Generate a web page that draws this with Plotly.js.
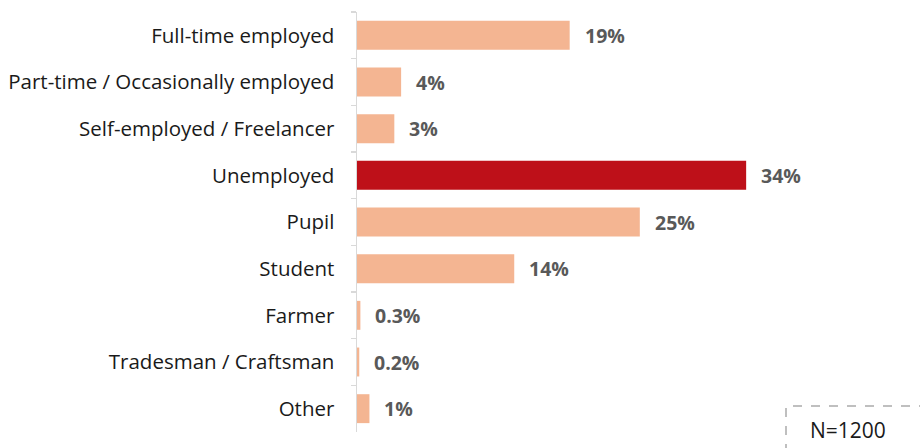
<!DOCTYPE html>
<html>
<head>
<meta charset="utf-8">
<script src="https://cdn.plot.ly/plotly-3.0.1.min.js"></script>
<style>html,body{margin:0;padding:0;background:#fff;}#chart{width:920px;height:448px;}</style>
</head>
<body>
<div id="chart"></div>
<script>
const categories = ["Full-time employed","Part-time / Occasionally employed","Self-employed / Freelancer","Unemployed","Pupil","Student","Farmer","Tradesman / Craftsman","Other"];
const values = [18.8, 3.9, 3.3, 34.4, 25.0, 13.9, 0.3, 0.2, 1.1];
const valueLabels = ["19%","4%","3%","34%","25%","14%","0.3%","0.2%","1%"];
const highlight = "Unemployed";
const sampleNote = "N=1200";

const colors = categories.map(c => c === highlight ? "#BE1019" : "#F4B592");

const trace = {
  type: "bar",
  orientation: "h",
  y: categories,
  x: values,
  marker: {color: colors},
  hoverinfo: "none"
};

const annotations = categories.map((c, i) => ({
  x: values[i], y: c, xref: "x", yref: "y",
  text: "<b>" + valueLabels[i] + "</b>",
  showarrow: false, xanchor: "left", xshift: 13,
  font: {family: "Open Sans, sans-serif", size: 19.5, color: "#595959"}
}));
annotations.push({
  xref: "paper", yref: "paper",
  x: (848 - 357) / 543, y: (448 - 16 - 430) / 420,
  text: sampleNote, showarrow: false, xanchor: "center", yanchor: "middle",
  font: {family: "Open Sans, sans-serif", size: 21, color: "#1a1a1a"}
});

const layout = {
  width: 920, height: 448,
  margin: {l: 357, r: 20, t: 12, b: 16},
  paper_bgcolor: "#fff", plot_bgcolor: "#fff",
  bargap: 0.38,
  showlegend: false,
  xaxis: {range: [0, 48], visible: false, fixedrange: true},
  yaxis: {
    type: "category", autorange: "reversed",
    showline: true, linecolor: "#D9D9D9", linewidth: 1.5,
    ticks: "outside", tickson: "boundaries", ticklen: 5, tickcolor: "#D9D9D9", tickwidth: 1.5,
    ticklabelstandoff: 17,
    tickfont: {family: "Open Sans, sans-serif", size: 20.5, color: "#1a1a1a"},
    showgrid: false, zeroline: false
  },
  annotations: annotations,
  shapes: [{
    type: "rect", xref: "paper", yref: "paper",
    x0: (786 - 357) / 543, x1: (930 - 357) / 543,
    y0: (16 - 60) / 420, y1: (448 - 16 - 406) / 420,
    line: {color: "#BFBFBF", width: 2, dash: "dash"}, fillcolor: "rgba(0,0,0,0)"
  }]
};

Plotly.newPlot("chart", [trace], layout, {displayModeBar: false, staticPlot: true});
</script>
</body>
</html>
